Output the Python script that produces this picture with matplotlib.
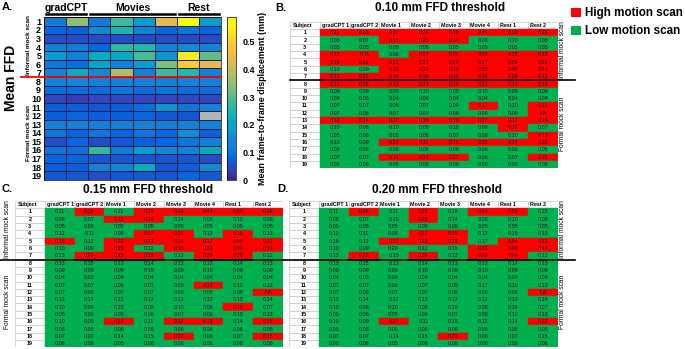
import numpy as np
import matplotlib
matplotlib.use("Agg")
import matplotlib.pyplot as plt
from matplotlib.colors import LinearSegmentedColormap
from matplotlib.patches import Rectangle
from matplotlib.lines import Line2D

plt.rcParams["font.family"] = ["Liberation Sans", "DejaVu Sans"]

W, H = 685, 349

subjects = list(range(1, 20))
scans = ["gradCPT 1", "gradCPT 2", "Movie 1", "Movie 2", "Movie 3", "Movie 4", "Rest 1", "Rest 2"]
groups = ["gradCPT", "Movies", "Rest"]
group_cols = [(0, 2), (2, 6), (6, 8)]
n_informal = 7

# mean FFD (mm) per subject x scan, NaN = missing scan
mean_ffd = np.array([
    [0.11, 0.35, 0.11, 0.28, 0.18, 0.44, 0.59, 0.18],
    [0.08, 0.07, 0.153, 0.25, 0.14, 0.08, 0.10, 0.08],
    [0.05, 0.05, 0.05, 0.05, 0.05, 0.05, 0.05, 0.05],
    [0.12, 0.11, 0.08, 0.27, 0.26, 0.13, 0.153, 0.13],
    [0.18, 0.12, 0.22, 0.21, 0.29, 0.17, 0.54, 0.31],
    [0.10, 0.09, 0.198, 0.12, 0.18, 0.33, 0.49, 0.44],
    [0.13, 0.22, 0.152, 0.38, 0.13, 0.28, 0.26, 0.12],
    [0.13, 0.148, 0.13, 0.14, 0.13, 0.13, 0.14, 0.13],
    [0.09, 0.09, 0.09, 0.10, 0.09, 0.10, 0.09, 0.09],
    [0.04, 0.03, 0.04, 0.04, 0.04, 0.04, 0.04, 0.04],
    [0.07, 0.07, 0.06, 0.07, 0.09, 0.17, 0.10, 0.13],
    [0.07, 0.08, 0.07, 0.07, 0.08, 0.06, 0.06, np.nan],
    [0.13, 0.14, 0.12, 0.13, 0.13, 0.12, 0.13, 0.14],
    [0.10, 0.08, 0.10, 0.08, 0.10, 0.08, 0.16, 0.07],
    [0.05, 0.08, 0.05, 0.06, 0.07, 0.08, 0.10, 0.13],
    [0.10, 0.09, 0.27, 0.11, 0.18, 0.152, 0.14, 0.22],
    [0.08, 0.08, 0.06, 0.06, 0.06, 0.06, 0.06, 0.05],
    [0.07, 0.07, 0.14, 0.147, 0.22, 0.06, 0.07, 0.153],
    [0.06, 0.06, 0.05, 0.06, 0.06, 0.06, 0.08, 0.06],
])

thresholds = [0.10, 0.15, 0.20]

RED = "#ff0000"
GREEN = "#00b050"

# parula-like colormap
parula = LinearSegmentedColormap.from_list("parula", [
    (0.2081, 0.1663, 0.5292), (0.1959, 0.2645, 0.7279), (0.0117, 0.3875, 0.8820),
    (0.0723, 0.4887, 0.8467), (0.0793, 0.5200, 0.8312), (0.0239, 0.6287, 0.8038),
    (0.0384, 0.6743, 0.7436), (0.1453, 0.7098, 0.6646), (0.3022, 0.7376, 0.5712),
    (0.4871, 0.7491, 0.4840), (0.6473, 0.7456, 0.4188), (0.7858, 0.7356, 0.3633),
    (0.9139, 0.7258, 0.3063), (0.9990, 0.7653, 0.2164), (0.9697, 0.8481, 0.1475),
    (0.9661, 0.9514, 0.0755), (0.9763, 0.9831, 0.0538)])
parula.set_bad("#b4b4b4")

fig = plt.figure(figsize=(W / 100, H / 100), dpi=100)


def px_axes(x0, y0, x1, y1):
    return fig.add_axes([x0 / W, 1 - y1 / H, (x1 - x0) / W, (y1 - y0) / H])


def fig_text(x, y, s, **kw):
    fig.text(x / W, 1 - y / H, s, **kw)


def fig_line(x0, x1, y, color="black", lw=1.2):
    fig.add_artist(Line2D([x0 / W, x1 / W], [1 - y / H, 1 - y / H],
                          transform=fig.transFigure, color=color, lw=lw))


# ---- A: heatmap
ax = px_axes(44, 17, 221, 180)
mesh = ax.pcolormesh(np.ma.masked_invalid(mean_ffd), cmap=parula, vmin=0, vmax=0.59,
                     edgecolors="#20204a", linewidth=0.4)
ax.set_xlim(0, len(scans))
ax.set_ylim(len(subjects), 0)
ax.set_xticks([])
ax.set_yticks(np.arange(len(subjects)) + 0.5)
ax.set_yticklabels(subjects, fontsize=6.5, fontweight="bold")
ax.tick_params(axis="y", length=0, pad=2)
for sp in ax.spines.values():
    sp.set_linewidth(0.5)

col_w = (221 - 44) / len(scans)
for name, (c0, c1) in zip(groups, group_cols):
    xa = 44 + c0 * col_w + 2
    xb = 44 + c1 * col_w - 2
    fig_line(xa, xb, 14, lw=1.8)
    fig_text((xa + xb) / 2, 8, name, ha="center", va="center", fontsize=7.5, fontweight="bold")

fig_line(21, 221, 17 + n_informal * (163 / 19), color="red", lw=1.3)
fig_text(29, 45, "Informal mock scan", rotation=90, ha="center", va="center", fontsize=4.6, fontweight="bold")
fig_text(29, 133, "Formal mock scan", rotation=90, ha="center", va="center", fontsize=4.6, fontweight="bold")
fig_text(11, 78, "Mean FFD", rotation=90, ha="center", va="center", fontsize=10, fontweight="bold")
fig_text(2, 7, "A.", ha="left", va="center", fontsize=8, fontweight="bold")

cax = px_axes(227, 17, 236, 180)
cb = fig.colorbar(mesh, cax=cax, ticks=[0, 0.1, 0.2, 0.3, 0.4, 0.5])
cb.ax.set_yticklabels(["0", "0.1", "0.2", "0.3", "0.4", "0.5"], fontsize=6.5, fontweight="bold")
cb.ax.tick_params(length=0, pad=5)
cb.outline.set_linewidth(0.5)
cb.set_label("Mean frame-to-frame displacement (mm)", fontsize=6.4, fontweight="bold", labelpad=2)


# ---- B, C, D: threshold tables
def draw_table(x0, y0, x1, y1, thr):
    t = px_axes(x0, y0, x1, y1)
    t.set_xlim(0, len(scans) + 1)
    t.set_ylim(len(subjects) + 1, 0)
    t.axis("off")
    fs = 3.9
    t.add_patch(Rectangle((0, 0), 1, 1, fc="white", ec="#c8c8c8", lw=0.5))
    t.text(0.08, 0.5, "Subject", ha="left", va="center", fontsize=fs, fontweight="bold")
    for j, s in enumerate(scans):
        t.add_patch(Rectangle((j + 1, 0), 1, 1, fc="white", ec="#c8c8c8", lw=0.5))
        t.text(j + 1.06, 0.5, s, ha="left", va="center", fontsize=fs, fontweight="bold")
    for i, subj in enumerate(subjects):
        t.add_patch(Rectangle((0, i + 1), 1, 1, fc="white", ec="#c8c8c8", lw=0.5))
        t.text(0.5, i + 1.5, str(subj), ha="center", va="center", fontsize=fs, fontweight="bold")
        for j in range(len(scans)):
            v = mean_ffd[i, j]
            high = np.isnan(v) or v > thr
            c = RED if high else GREEN
            t.add_patch(Rectangle((j + 1, i + 1), 1, 1, fc=c, ec=c, lw=0.3))
            label = "NA" if np.isnan(v) else f"{v:.2f}"
            t.text(j + 1.5, i + 1.5, label, ha="center", va="center", fontsize=fs, color="#111111")
    return t


row_h_b = (168.3 - 21.7) / 20
draw_table(290, 21.7, 558, 168.3, thresholds[0])
fig_line(290, 575, 21.7 + (n_informal + 1) * row_h_b, lw=1.2)
fig_text(440, 8, "0.10 mm FFD threshold", ha="center", va="center", fontsize=8.5, fontweight="bold")
fig_text(275, 8, "B.", ha="left", va="center", fontsize=8, fontweight="bold")
fig_text(563, 50, "Informal mock scan", rotation=90, ha="center", va="center", fontsize=4.8)
fig_text(563, 124, "Formal mock scan", rotation=90, ha="center", va="center", fontsize=4.8)

row_h_c = (347.4 - 201) / 20
draw_table(15, 201, 283, 347.4, thresholds[1])
draw_table(289, 201, 558, 347.4, thresholds[2])
yl = 201 + (n_informal + 1) * row_h_c
fig_line(0, 283, yl, lw=1.2)
fig_line(283, 575, yl, lw=1.2)
fig_text(148, 190, "0.15 mm FFD threshold", ha="center", va="center", fontsize=8.5, fontweight="bold")
fig_text(437, 190, "0.20 mm FFD threshold", ha="center", va="center", fontsize=8.5, fontweight="bold")
fig_text(1, 189, "C.", ha="left", va="center", fontsize=8, fontweight="bold")
fig_text(277, 189, "D.", ha="left", va="center", fontsize=8, fontweight="bold")
fig_text(8, 229, "Informal mock scan", rotation=90, ha="center", va="center", fontsize=4.8)
fig_text(8, 302, "Formal mock scan", rotation=90, ha="center", va="center", fontsize=4.8)
fig_text(563, 229, "Informal mock scan", rotation=90, ha="center", va="center", fontsize=4.8)
fig_text(563, 302, "Formal mock scan", rotation=90, ha="center", va="center", fontsize=4.8)

# legend
lg = px_axes(570, 6, 685, 38)
lg.set_xlim(570, 685)
lg.set_ylim(38, 6)
lg.axis("off")
lg.add_patch(Rectangle((571, 8), 10, 9, fc=RED, ec="none"))
lg.add_patch(Rectangle((571, 26), 10, 9, fc=GREEN, ec="none"))
lg.text(585, 13, "High motion scan", ha="left", va="center", fontsize=8.4, fontweight="bold")
lg.text(585, 31, "Low motion scan", ha="left", va="center", fontsize=8.4, fontweight="bold")

fig.savefig("out.png", dpi=100)
